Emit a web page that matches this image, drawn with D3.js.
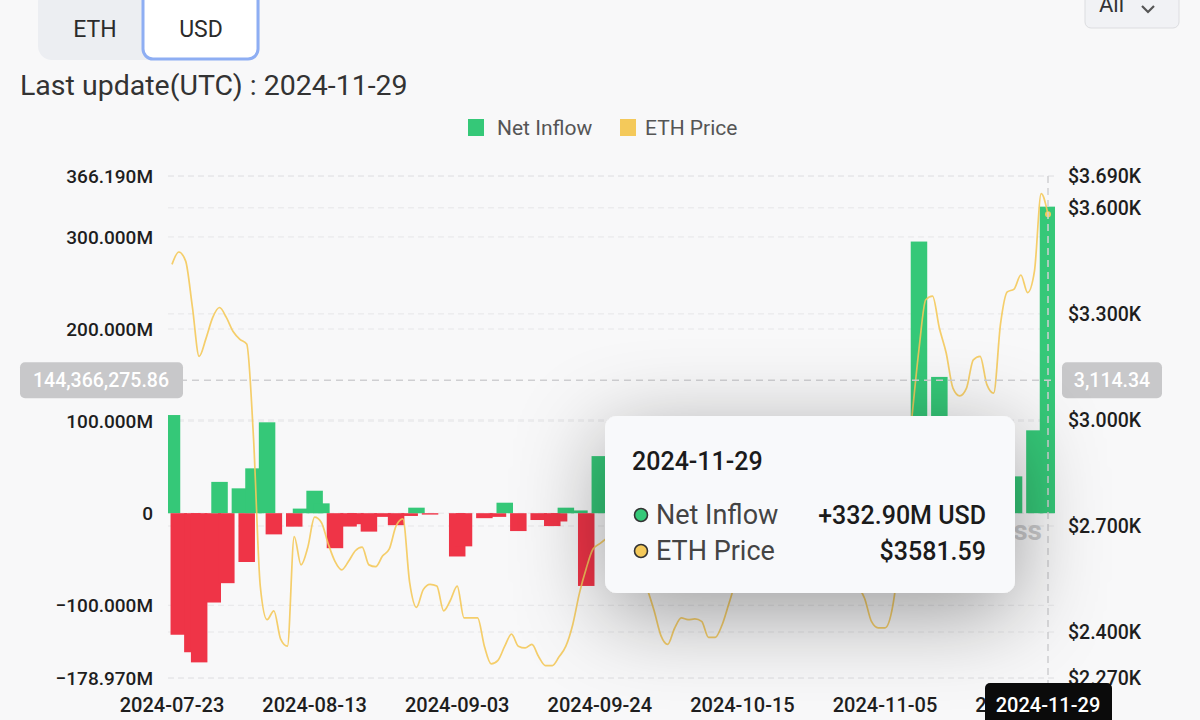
<!DOCTYPE html>
<html><head><meta charset="utf-8">
<script src="https://cdn.jsdelivr.net/npm/d3@7"></script>
<style>
html,body{margin:0;padding:0;background:#f8f8f9;}
svg{display:block;font-family:Roboto,"Noto Sans",sans-serif;}
</style></head><body>
<svg id="chart" width="1200" height="720"></svg>
<script>
// ---------------- data ----------------
const startDate = "2024-07-23";
const endDate = "2024-11-29";
const barDates = ["2024-07-23","2024-07-24","2024-07-26","2024-07-27","2024-07-29","2024-07-30","2024-07-31",
  "2024-08-02","2024-08-03","2024-08-04","2024-08-06","2024-08-07","2024-08-10","2024-08-11","2024-08-13",
  "2024-08-14","2024-08-16","2024-08-18","2024-08-19","2024-08-21","2024-08-23","2024-08-25","2024-08-27",
  "2024-08-28","2024-08-30","2024-09-03","2024-09-04","2024-09-07","2024-09-09","2024-09-10","2024-09-12",
  "2024-09-15","2024-09-17","2024-09-18","2024-09-19","2024-09-21","2024-09-22","2024-09-24",
  "2024-11-10","2024-11-13","2024-11-24","2024-11-27","2024-11-29"];
const netInflowM = [106.6,-132,-151,-162,-97,34,-76,
  27,-53,48.7,98.7,-23,-14.6,5,24.4,
  10.7,-38,-14.5,-12,-20,-4,-13,-3,
  6,-1.5,-47,-36,-5.4,-4,11.4,-19.4,
  -7.4,-14,-9,6,3,-79,62,
  295,148,40,90,332.90];
// daily ETH price from 2024-07-23 to 2024-11-29
const ethPrice = [3440,3475,3450,3320,3180,3230,3290,3318,3290,3250,
  3228,3215,2950,2530,2435,2460,2380,2360,2670,2590,
  2640,2725,2710,2650,2600,2576,2600,2630,2640,2590,
  2585,2615,2635,2700,2720,2540,2470,2520,2535,2530,
  2460,2490,2530,2440,2440,2440,2360,2310,2320,2360,
  2394,2360,2355,2365,2330,2305,2305,2330,2360,2420,
  2510,2580,2635,2650,2665,2680,2690,2660,2620,2560,
  2520,2460,2390,2365,2410,2440,2435,2437,2430,2385,
  2385,2420,2480,2540,2580,2610,2640,2630,2610,2600,
  2620,2650,2680,2660,2620,2600,2610,2640,2620,2590,
  2560,2530,2495,2430,2412,2412,2460,2600,2820,3015,
  3200,3340,3350,3260,3190,3090,3068,3090,3170,3180,
  3100,3076,3270,3362,3370,3410,3360,3420,3640,3581.59];
const xTickDates = ["2024-07-23","2024-08-13","2024-09-03","2024-09-24","2024-10-15","2024-11-05","2024-11-26"];
const leftTicks = [-178.97,-100,0,100,200,300,366.19];
const rightTicks = [2270,2400,2700,3000,3300,3600,3690];
const legendLabels = ["Net Inflow","ETH Price"];
const unitButtons = ["ETH","USD"];
const lastUpdate = "Last update(UTC) : 2024-11-29";
const rangeLabel = "All";
const tooltipDate = "2024-11-29";
const tooltipRows = [["Net Inflow","+332.90M USD"],["ETH Price","$3581.59"]];
const pointerValueM = 144.36627586;
const pointerLeftLabel = "144,366,275.86";
const pointerRightLabel = "3,114.34";
const watermark = "CoinGlass";

// ---------------- styles / layout ----------------
const GREEN = "#35c878", RED = "#ef3447", GOLD = "#f4c95a";
const plot = {left:168, right:1055, top:176, bottom:678};
const barW = 16.5;

const parse = d3.utcParse("%Y-%m-%d");
const svg = d3.select("#chart");
const defs = svg.append("defs");
defs.append("clipPath").attr("id","plotclip").append("rect")
  .attr("x",plot.left).attr("y",plot.top-10).attr("width",plot.right-plot.left).attr("height",plot.bottom-plot.top+20);
const f = defs.append("filter").attr("id","shadow").attr("x","-60%").attr("y","-80%").attr("width","220%").attr("height","280%");
f.append("feDropShadow").attr("dx",0).attr("dy",20).attr("stdDeviation",44).attr("flood-color","#000").attr("flood-opacity",0.38);

svg.append("rect").attr("width",1200).attr("height",720).attr("fill","#f8f8f9");

const x = d3.scaleUtc().domain([parse(startDate), parse(endDate)]).range([172, 1048]);
const yL = d3.scaleLinear().domain([leftTicks[0], leftTicks[leftTicks.length-1]]).range([plot.bottom, plot.top]);
const yR = d3.scaleLinear().domain([rightTicks[0], rightTicks[rightTicks.length-1]]).range([plot.bottom, plot.top]);

// ---------- top controls ----------
const topG = svg.append("g");
topG.append("rect").attr("x",38).attr("y",-12).attr("width",222).attr("height",72).attr("rx",14).attr("fill","#eceef2");
topG.append("rect").attr("x",143).attr("y",-10).attr("width",115).attr("height",69).attr("rx",10)
  .attr("fill","#ffffff").attr("stroke","#8eaef3").attr("stroke-width",3);
topG.selectAll("text.btn").data(unitButtons).join("text").attr("class","btn")
  .attr("x",(d,i)=>i?201:95).attr("y",37).attr("text-anchor","middle")
  .attr("font-size",23).attr("fill","#2b2b2b").text(d=>d);
topG.append("rect").attr("x",1085).attr("y",-12).attr("width",94).attr("height",40).attr("rx",6)
  .attr("fill","#f1f2f5").attr("stroke","#dcdde0");
topG.append("text").attr("x",1099).attr("y",12).attr("font-size",22).attr("fill","#333").text(rangeLabel);
topG.append("path").attr("d","M1142,6 l6,6 l6,-6").attr("fill","none").attr("stroke","#555").attr("stroke-width",2.2);
svg.append("text").attr("x",20).attr("y",95).attr("font-size",28.5).attr("fill","#333").text(lastUpdate);

// ---------- legend ----------
const lg = svg.append("g");
const legendX = [468, 620];
legendLabels.forEach((l,i)=>{
  lg.append("rect").attr("x",legendX[i]).attr("y",119).attr("width",16).attr("height",17).attr("fill",i?GOLD:GREEN);
  lg.append("text").attr("x",legendX[i]+(i?25:29)).attr("y",135).attr("font-size",21).attr("fill","#555").text(l);
});

// ---------- grid ----------
const grid = svg.append("g");
const gridYs = leftTicks.map(v=>yL(v)).concat(rightTicks.map(v=>yR(v)));
grid.selectAll("line").data(gridYs).join("line")
  .attr("x1",plot.left).attr("x2",plot.right).attr("y1",d=>d).attr("y2",d=>d)
  .attr("stroke","#e6e6e8").attr("stroke-width",1).attr("stroke-dasharray","6,4");

// ---------- axes labels ----------
const fmtL = v => v===0 ? "0" : d3.format(".3f")(v)+"M";
const fmtR = v => "$"+d3.format(".3f")(v/1000)+"K";
svg.append("g").selectAll("text").data(leftTicks).join("text")
  .attr("x",153).attr("y",d=>yL(d)+7).attr("text-anchor","end")
  .attr("font-size",19).attr("font-weight",500).attr("fill","#1e1e1e").text(fmtL);
svg.append("g").selectAll("text").data(rightTicks).join("text")
  .attr("x",1068).attr("y",d=>yR(d)+7).attr("text-anchor","start")
  .attr("font-size",19.5).attr("font-weight",500).attr("fill","#1e1e1e").text(fmtR);
svg.append("g").selectAll("text").data(xTickDates).join("text")
  .attr("x",d=>x(parse(d))).attr("y",712).attr("text-anchor","middle")
  .attr("font-size",20).attr("font-weight",500).attr("fill","#1e1e1e").text(d=>d);

// ---------- bars ----------
const bars = barDates.map((d,i)=>({date:parse(d), v:netInflowM[i]}));
svg.append("g").attr("clip-path","url(#plotclip)").selectAll("rect").data(bars).join("rect")
  .attr("x",d=>x(d.date)-barW/2).attr("width",barW)
  .attr("y",d=>yL(Math.max(0,d.v))).attr("height",d=>Math.abs(yL(d.v)-yL(0)))
  .attr("fill",d=>d.v>=0?GREEN:RED);

// watermark
svg.append("text").attr("x",1042).attr("y",540).attr("text-anchor","end").attr("font-size",28)
  .attr("font-weight",700).attr("fill","#cbcbcd").text(watermark);

// ---------- price line ----------
const days = d3.utcDay.range(parse(startDate), d3.utcDay.offset(parse(endDate),1));
const pts = days.map((d,i)=>({date:d, p:ethPrice[i]}));
svg.append("path").datum(pts)
  .attr("d", d3.line().x(d=>x(d.date)).y(d=>yR(d.p)).curve(d3.curveMonotoneX))
  .attr("fill","none").attr("stroke",GOLD).attr("stroke-width",1.7).attr("stroke-opacity",0.9);
const last = pts[pts.length-1];
svg.append("circle").attr("cx",x(last.date)).attr("cy",yR(last.p)).attr("r",3).attr("fill",GOLD);

// ---------- axis pointer ----------
const py = yL(pointerValueM);
const px = x(parse(tooltipDate));
svg.append("line").attr("x1",plot.left).attr("x2",plot.right).attr("y1",py).attr("y2",py)
  .attr("stroke","#cfcfd2").attr("stroke-width",1.5).attr("stroke-dasharray","7,5");
svg.append("line").attr("x1",px).attr("x2",px).attr("y1",plot.top).attr("y2",690)
  .attr("stroke","#cfcfd2").attr("stroke-width",1.5).attr("stroke-dasharray","7,5");
svg.append("rect").attr("x",20).attr("y",py-18).attr("width",163).attr("height",36).attr("rx",5).attr("fill","#c8c8ca");
svg.append("text").attr("x",101).attr("y",py+7).attr("text-anchor","middle").attr("font-size",19.5).attr("font-weight",500).attr("fill","#fff").text(pointerLeftLabel);
svg.append("rect").attr("x",1062).attr("y",py-18).attr("width",100).attr("height",36).attr("rx",5).attr("fill","#c8c8ca");
svg.append("text").attr("x",1112).attr("y",py+7).attr("text-anchor","middle").attr("font-size",19.5).attr("font-weight",500).attr("fill","#fff").text(pointerRightLabel);
svg.append("rect").attr("x",px-63).attr("y",683).attr("width",127).attr("height",44).attr("rx",5).attr("fill","#0b0b0b");
svg.append("text").attr("x",px).attr("y",712).attr("text-anchor","middle").attr("font-size",20).attr("font-weight",500).attr("fill","#fff").text(tooltipDate);

// ---------- tooltip ----------
const tt = svg.append("g");
tt.append("rect").attr("x",605).attr("y",416).attr("width",410).attr("height",177).attr("rx",12)
  .attr("fill","#f8f9fb").attr("filter","url(#shadow)");
tt.append("text").attr("x",632).attr("y",470).attr("font-size",25).attr("font-weight",500).attr("fill","#1b1b1b").text(tooltipDate);
tooltipRows.forEach((r,i)=>{
  const cy = 515 + i*36;
  tt.append("circle").attr("cx",641).attr("cy",cy).attr("r",6.5).attr("fill",i?GOLD:GREEN).attr("stroke","#333").attr("stroke-width",1.6);
  tt.append("text").attr("x",656).attr("y",cy+9).attr("font-size",27).attr("fill","#444").text(r[0]);
  tt.append("text").attr("x",986).attr("y",cy+9).attr("text-anchor","end").attr("font-size",25).attr("font-weight",500).attr("fill","#1b1b1b").text(r[1]);
});
</script>
</body></html>
